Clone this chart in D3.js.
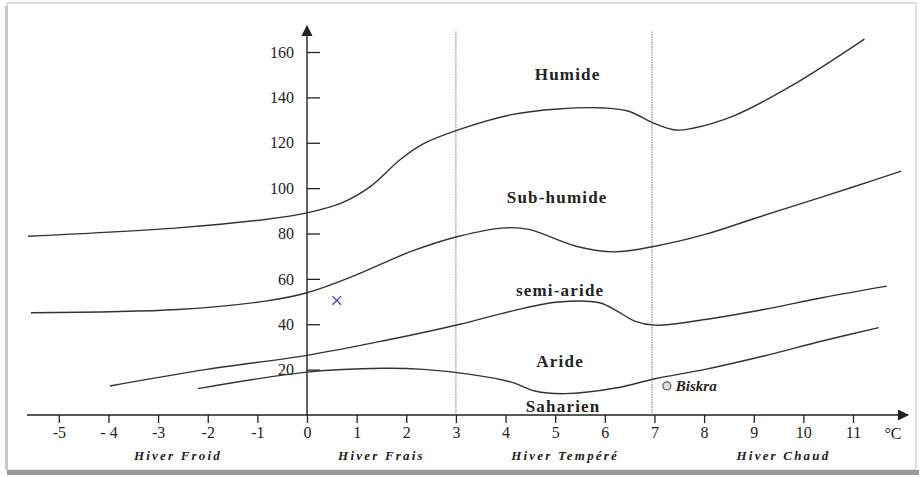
<!DOCTYPE html>
<html>
<head>
<meta charset="utf-8">
<script src="https://cdn.jsdelivr.net/npm/d3@7"></script>
<style>
  body { margin: 0; background: #fff; }
  svg text { font-family: "Liberation Serif", "DejaVu Serif", serif; fill: #222; }
</style>
</head>
<body>
<svg id="chart" width="921" height="477"></svg>
<script>
// Emberger climagram: Q2 (y) against m, mean minimum of the coldest month (x)
let xTicks = [-5, -4, -3, -2, -1, 0, 1, 2, 3, 4, 5, 6, 7, 8, 9, 10, 11];
let xTickLabels = ["-5", "- 4", "-3", "-2", "-1", "0", "1", "2", "3", "4", "5", "6", "7", "8", "9", "10", "11"];
let yTicks = [20, 40, 60, 80, 100, 120, 140, 160];

// boundary curves [m, Q2]
let humideLimit = [[-5.62, 78.8], [-2.6, 82.5], [-0.84, 86.2], [0, 89.1], [0.7, 93.5], [1.29, 100.9],
    [1.88, 112.6], [2.35, 119.6], [3.06, 125.8], [4.12, 132.4], [5.06, 134.9], [6.0, 135.3],
    [6.48, 133.9], [7.01, 128.4], [7.43, 125.6], [7.75, 126.3], [8.61, 132.0], [9.79, 145.5], [11.23, 165.7]];
let subHumideLimit = [[-5.56, 45.1], [-2.6, 46.5], [-0.84, 50.2], [0, 53.9], [0.93, 61.2], [2.11, 72.2],
    [3.06, 78.8], [4.0, 82.5], [4.47, 81.8], [5.42, 74.4], [6.19, 71.9], [7.01, 74.4], [8.02, 79.6],
    [9.0, 86.5], [10.0, 93.5], [11.0, 100.5], [11.97, 107.5]];
let semiArideLimit = [[-3.97, 12.8], [-2.02, 20.1], [0, 26.3], [1.52, 32.6], [3.06, 39.9], [4.12, 45.8],
    [5.06, 49.8], [5.89, 49.5], [6.25, 45.8], [6.6, 41.4], [7.01, 39.6], [8.02, 42.1], [9.2, 46.5],
    [10.38, 51.7], [11.68, 56.8]];
let arideLimit = [[-2.2, 11.6], [0, 18.9], [1.52, 20.6], [2.35, 20.1], [3.29, 17.9], [4.12, 14.5],
    [4.59, 10.6], [5.18, 9.4], [6.25, 12.0], [7.01, 16.0], [8.02, 20.1], [9.2, 26.0], [10.38, 32.6], [11.52, 38.5]];

let winterLimits = [3, 6.95];
let zoneNames = ["Humide", "Sub-humide", "semi-aride", "Aride", "Saharien"];
let zonePos = [[5.25, 147.5], [5.04, 93.4], [5.1, 52.4], [5.1, 21.1], [5.16, 1.3]];
let winterNames = ["Hiver Froid", "Hiver Frais", "Hiver Tempéré", "Hiver Chaud"];
let winterPos = [-2.6, 1.5, 5.2, 9.6];
let station = {name: "Biskra", m: 7.25, q: 12.8};
let cross = {m: 0.6, q: 50.5};

let serif = "'Liberation Serif', 'DejaVu Serif', serif";
let svg = d3.select("#chart");

// frame like the scanned figure
svg.append("rect").attr("x", 7).attr("y", 3).attr("width", 909).attr("height", 467)
    .attr("fill", "none").attr("stroke", "#d6d6d6").attr("stroke-width", 1.5);
svg.append("rect").attr("x", 5).attr("y", 6).attr("width", 3).attr("height", 464).attr("fill", "#c8c8c8");
svg.append("rect").attr("x", 7).attr("y", 470).attr("width", 912).attr("height", 5).attr("fill", "#9a9a9a");

let x = d3.scaleLinear().domain([0, 11]).range([307, 853]);
let y = d3.scaleLinear().domain([0, 160]).range([415, 52]);

// winter-type separators
svg.selectAll(".sep").data(winterLimits).enter().append("line")
    .attr("class", "sep")
    .attr("x1", d => x(d)).attr("x2", d => x(d))
    .attr("y1", y(169)).attr("y2", y(0))
    .attr("stroke", "#777").attr("stroke-width", 1).attr("stroke-dasharray", "1.5,1");

// axes lines with arrows
svg.append("defs").append("marker").attr("id", "arrow")
    .attr("viewBox", "0 0 10 10").attr("refX", 9).attr("refY", 5)
    .attr("markerWidth", 10).attr("markerHeight", 8).attr("orient", "auto")
    .append("path").attr("d", "M0,0 L10,5 L0,10 z").attr("fill", "#222");

svg.append("line").attr("x1", 27).attr("x2", 908).attr("y1", y(0)).attr("y2", y(0))
    .attr("stroke", "#222").attr("stroke-width", 1.4).attr("marker-end", "url(#arrow)");
svg.append("line").attr("x1", x(0)).attr("x2", x(0)).attr("y1", y(0)).attr("y2", 26)
    .attr("stroke", "#222").attr("stroke-width", 1.4).attr("marker-end", "url(#arrow)");

let xAxis = d3.axisBottom(x).tickValues(xTicks)
    .tickFormat((d, i) => xTickLabels[i]).tickSize(8).tickPadding(4);
let gx = svg.append("g").attr("transform", `translate(0, ${y(0)})`).call(xAxis)
    .attr("font-family", serif);
gx.select(".domain").remove();
gx.selectAll("line").attr("stroke", "#222").attr("stroke-width", 1.3);
gx.selectAll("text").style("font-family", serif).attr("font-size", 16).attr("fill", "#222");

let yAxis = d3.axisLeft(y).tickValues(yTicks).tickSizeInner(-13).tickSizeOuter(0).tickPadding(13);
let gy = svg.append("g").attr("transform", `translate(${x(0)}, 0)`).call(yAxis)
    .attr("font-family", serif);
gy.select(".domain").remove();
gy.selectAll("line").attr("stroke", "#222").attr("stroke-width", 1.3);
gy.selectAll("text").style("font-family", serif).attr("font-size", 16).attr("fill", "#222");

svg.append("text").attr("x", 893).attr("y", y(0) + 24).attr("text-anchor", "middle")
    .attr("font-size", 16).text("°C");

// boundary curves
let line = d3.line().x(d => x(d[0])).y(d => y(d[1])).curve(d3.curveCatmullRom.alpha(0.5));
svg.selectAll(".limit").data([humideLimit, subHumideLimit, semiArideLimit, arideLimit])
    .enter().append("path")
    .attr("class", "limit")
    .attr("d", line)
    .attr("fill", "none").attr("stroke", "#333").attr("stroke-width", 1.4);

// zone names
svg.selectAll(".zone").data(zoneNames).enter().append("text")
    .attr("class", "zone")
    .attr("x", (d, i) => x(zonePos[i][0]))
    .attr("y", (d, i) => y(zonePos[i][1]))
    .attr("text-anchor", "middle")
    .attr("font-size", 17).attr("font-weight", "bold").attr("letter-spacing", 1.2)
    .text(d => d);

// winter names under the axis
svg.selectAll(".winter").data(winterNames).enter().append("text")
    .attr("class", "winter")
    .attr("x", (d, i) => x(winterPos[i]))
    .attr("y", 460)
    .attr("text-anchor", "middle")
    .attr("font-size", 13).attr("font-weight", "bold").attr("font-style", "italic")
    .attr("letter-spacing", 2.2)
    .attr("fill", "#333")
    .text(d => d);

// station
svg.append("circle").attr("cx", x(station.m)).attr("cy", y(station.q)).attr("r", 4)
    .attr("fill", "#ddd").attr("stroke", "#555").attr("stroke-width", 1.2);
svg.append("text").attr("x", x(station.m) + 9).attr("y", y(station.q) + 5)
    .attr("font-size", 15).attr("font-weight", "bold").attr("font-style", "italic")
    .text(station.name);

// blue cross
svg.append("path")
    .attr("d", d3.symbol(d3.symbolX, 50)())
    .attr("transform", `translate(${x(cross.m)}, ${y(cross.q)})`)
    .attr("fill", "none").attr("stroke", "#3b3bd0").attr("stroke-width", 1.3);
</script>
</body>
</html>
